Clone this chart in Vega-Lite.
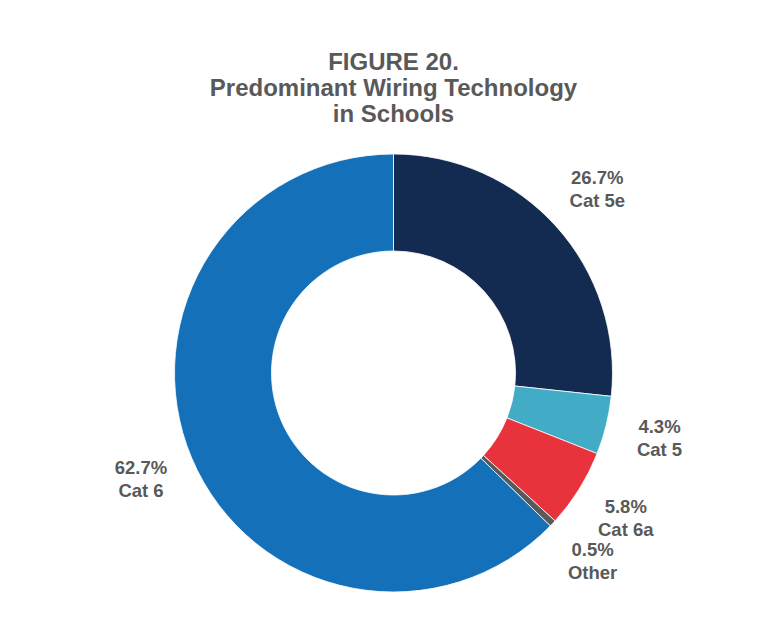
{
  "$schema": "https://vega.github.io/schema/vega-lite/v6.json",
  "autosize": {"type": "fit", "contains": "padding"},
  "width": 761,
  "height": 637,
  "padding": {"top": 51, "bottom": 28, "left": 26, "right": 0},
  "background": "white",
  "title": {
    "text": ["FIGURE 20.", "Predominant Wiring Technology", "in Schools"],
    "font": "Liberation Sans",
    "fontSize": 24,
    "fontWeight": "bold",
    "lineHeight": 26,
    "color": "#595959",
    "anchor": "middle",
    "offset": 10
  },
  "data": {
    "values": [
      {"category": "Cat 5e", "value": 0.267, "rank": 1},
      {"category": "Cat 5", "value": 0.043, "rank": 2},
      {"category": "Cat 6a", "value": 0.058, "rank": 3},
      {"category": "Other", "value": 0.005, "rank": 4},
      {"category": "Cat 6", "value": 0.627, "rank": 5}
    ]
  },
  "encoding": {
    "theta": {"field": "value", "type": "quantitative", "stack": true},
    "order": {"field": "rank", "type": "quantitative"},
    "color": {
      "field": "category",
      "type": "nominal",
      "scale": {
        "domain": ["Cat 5e", "Cat 5", "Cat 6a", "Other", "Cat 6"],
        "range": ["#132b50", "#42acc7", "#e8323c", "#595959", "#1370b9"]
      },
      "legend": null
    }
  },
  "layer": [
    {
      "mark": {"type": "arc", "outerRadius": 219, "innerRadius": 122, "stroke": "white", "strokeWidth": 0.8}
    },
    {
      "mark": {"type": "text", "radius": 274, "dy": -11.5, "font": "Liberation Sans", "fontSize": 18.5, "fontWeight": "bold", "fill": "#595959"},
      "encoding": {
        "text": {"field": "value", "type": "quantitative", "format": ".1%"},
        "color": {"value": "#595959"}
      }
    },
    {
      "mark": {"type": "text", "radius": 274, "dy": 11.5, "font": "Liberation Sans", "fontSize": 18.5, "fontWeight": "bold", "fill": "#595959"},
      "encoding": {
        "text": {"field": "category", "type": "nominal"},
        "color": {"value": "#595959"}
      }
    }
  ],
  "config": {"view": {"stroke": null}}
}
